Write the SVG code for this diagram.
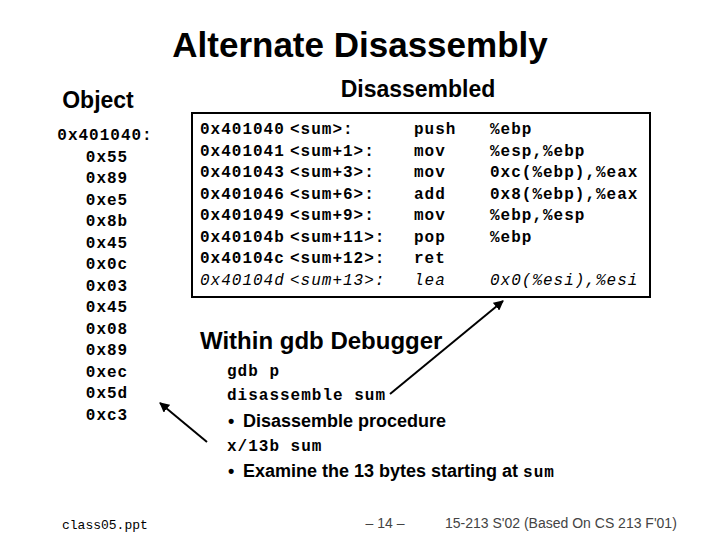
<svg xmlns="http://www.w3.org/2000/svg" width="720" height="540" viewBox="0 0 720 540">
<defs>
<style>
.s{font-family:"Liberation Sans",Arial,sans-serif;font-weight:bold}
.m{font-family:"Liberation Mono","Courier New",monospace;font-weight:bold;font-size:16px;letter-spacing:1px}
.i{font-style:italic;font-weight:normal}
.f{font-family:"Liberation Sans",Arial,sans-serif;font-size:14px;fill:#444}
.c{stroke:#000;stroke-width:2;fill:none}
</style>
<marker id="a" viewBox="0 0 10 10" refX="9" refY="5" markerWidth="5" markerHeight="5" orient="auto"><path d="M0,0L10,5L0,10z" fill="#000"/></marker>
</defs>
<rect width="720" height="540" fill="#fff"/>
<text class="s" x="360" y="57" font-size="35" text-anchor="middle">Alternate Disassembly</text>
<text class="s" x="98" y="108" font-size="23" text-anchor="middle">Object</text>
<text class="s" x="418" y="97" font-size="23" text-anchor="middle">Disassembled</text>
<g id="object" class="m" text-anchor="middle">
<text x="105" y="140">0x401040:</text>
<text x="107" y="162">0x55</text><text x="107" y="183">0x89</text><text x="107" y="205">0xe5</text>
<text x="107" y="226">0x8b</text><text x="107" y="248">0x45</text><text x="107" y="269">0x0c</text>
<text x="107" y="291">0x03</text><text x="107" y="312">0x45</text><text x="107" y="334">0x08</text>
<text x="107" y="355">0x89</text><text x="107" y="377">0xec</text><text x="107" y="398">0x5d</text>
<text x="107" y="420">0xc3</text>
</g>
<g id="disassembled">
<rect x="192" y="113" width="458" height="184" fill="none" stroke="#000" stroke-width="2"/>
<g class="m">
<text x="200" y="134">0x401040</text><text x="290" y="134">&lt;sum&gt;:</text><text x="414" y="134">push</text><text x="490" y="134">%ebp</text>
<text x="200" y="156">0x401041</text><text x="290" y="156">&lt;sum+1&gt;:</text><text x="414" y="156">mov</text><text x="490" y="156">%esp,%ebp</text>
<text x="200" y="177">0x401043</text><text x="290" y="177">&lt;sum+3&gt;:</text><text x="414" y="177">mov</text><text x="490" y="177">0xc(%ebp),%eax</text>
<text x="200" y="199">0x401046</text><text x="290" y="199">&lt;sum+6&gt;:</text><text x="414" y="199">add</text><text x="490" y="199">0x8(%ebp),%eax</text>
<text x="200" y="220">0x401049</text><text x="290" y="220">&lt;sum+9&gt;:</text><text x="414" y="220">mov</text><text x="490" y="220">%ebp,%esp</text>
<text x="200" y="242">0x40104b</text><text x="290" y="242">&lt;sum+11&gt;:</text><text x="414" y="242">pop</text><text x="490" y="242">%ebp</text>
<text x="200" y="263">0x40104c</text><text x="290" y="263">&lt;sum+12&gt;:</text><text x="414" y="263">ret</text>
<g class="i"><text x="200" y="285">0x40104d</text><text x="290" y="285">&lt;sum+13&gt;:</text><text x="414" y="285">lea</text><text x="490" y="285">0x0(%esi),%esi</text></g>
</g>
</g>
<g id="gdb">
<text class="s" x="200" y="349" font-size="24">Within gdb Debugger</text>
<text class="m" x="227" y="376">gdb p</text>
<text class="m" x="227" y="400">disassemble sum</text>
<text class="s" x="228" y="427" font-size="18">•</text><text class="s" x="243" y="427" font-size="18">Disassemble procedure</text>
<text class="m" x="227" y="451">x/13b sum</text>
<text class="s" x="228" y="477" font-size="18">•</text><text class="s" x="243" y="477" font-size="18">Examine the 13 bytes starting at <tspan class="m" font-size="15">sum</tspan></text>
</g>
<g id="connectors">
<path class="c" d="M390,394L503,301" marker-end="url(#a)"/>
<path class="c" d="M207,442L160,403" marker-end="url(#a)"/>
</g>
<text x="62" y="529" font-family="'Liberation Mono',monospace" font-size="13">class05.ppt</text>
<text class="f" x="385" y="528" text-anchor="middle">– 14 –</text>
<text class="f" x="445" y="528">15-213 S'02 (Based On CS 213 F'01)</text>
</svg>
